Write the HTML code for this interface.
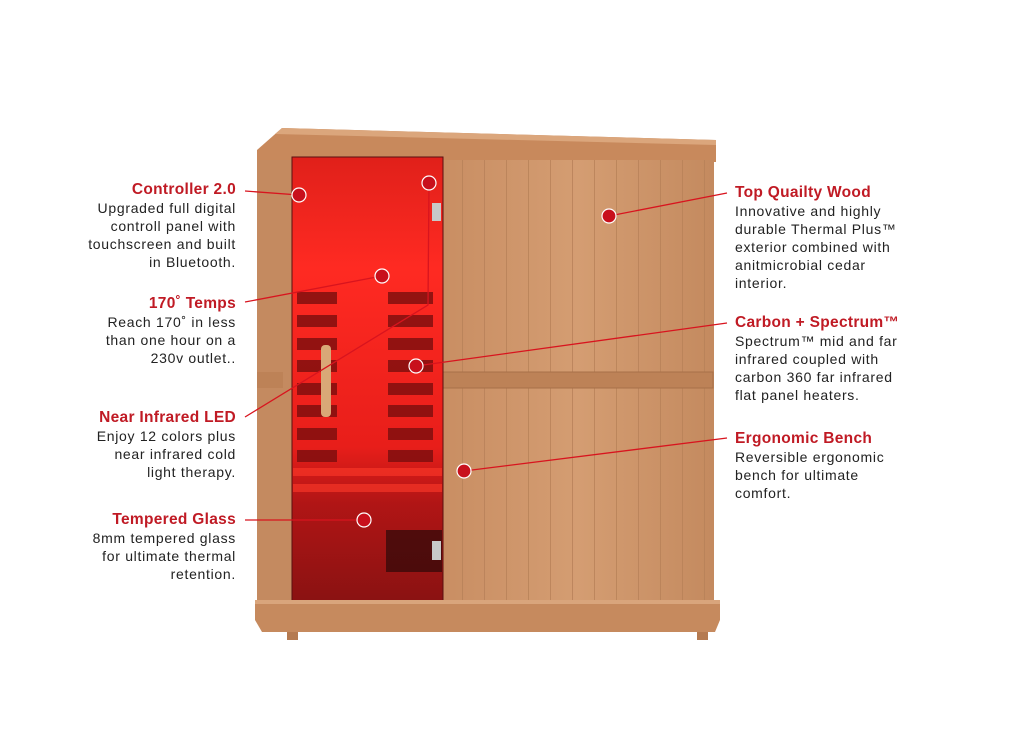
<!DOCTYPE html>
<html><head><meta charset="utf-8"><style>
body{margin:0;background:#fff;width:1024px;height:748px;overflow:hidden;position:relative;font-family:"Liberation Sans",sans-serif}
.l{position:absolute;font-size:14px;line-height:18px;color:#222;letter-spacing:0.7px;white-space:nowrap}
.l b{color:#c01a24;font-size:15.5px;font-weight:600;display:block;line-height:19px;letter-spacing:0.3px}
.r{text-align:right;right:788px}
.g{left:735px}
</style></head><body>
<svg width="1024" height="748" style="position:absolute;left:0;top:0">
<defs>
<linearGradient id="w" x1="0" x2="1"><stop offset="0" stop-color="#c98e63"/><stop offset=".5" stop-color="#d49d72"/><stop offset="1" stop-color="#c48a5f"/></linearGradient>
<linearGradient id="rd" x1="0" y1="0" x2="0" y2="1"><stop offset="0" stop-color="#e0201a"/><stop offset=".25" stop-color="#ff2a22"/><stop offset=".65" stop-color="#e81e1a"/><stop offset=".78" stop-color="#b01515"/><stop offset="1" stop-color="#8a1212"/></linearGradient>
<pattern id="pl" width="22" height="10" patternUnits="userSpaceOnUse"><line x1="0.5" y1="0" x2="0.5" y2="10" stroke="#b88158" stroke-width="0.8"/></pattern>
</defs>
<polygon points="257,150 282,128 716,140 716,162 257,162" fill="#c8895c"/>
<polygon points="282,128 716,140 716,145 275,134" fill="#dba67c"/>
<rect x="257" y="160" width="36" height="442" fill="#c48a60"/>
<rect x="443" y="160" width="271" height="442" fill="url(#w)"/>
<rect x="443" y="160" width="271" height="442" fill="url(#pl)"/>
<rect x="443" y="372" width="270" height="16" fill="#bd8257" stroke="#a87048"/>
<rect x="257" y="372" width="26" height="16" fill="#bd8257"/>
<rect x="292" y="157" width="151" height="445" fill="url(#rd)" stroke="#5a1010"/>
<g fill="#7a0e0e" opacity=".8">
<rect x="297" y="292" width="40" height="12"/><rect x="388" y="292" width="45" height="12"/>
<rect x="297" y="315" width="40" height="12"/><rect x="388" y="315" width="45" height="12"/>
<rect x="297" y="338" width="40" height="12"/><rect x="388" y="338" width="45" height="12"/>
<rect x="297" y="360" width="40" height="12"/><rect x="388" y="360" width="45" height="12"/>
<rect x="297" y="383" width="40" height="12"/><rect x="388" y="383" width="45" height="12"/>
<rect x="297" y="405" width="40" height="12"/><rect x="388" y="405" width="45" height="12"/>
<rect x="297" y="428" width="40" height="12"/><rect x="388" y="428" width="45" height="12"/>
<rect x="297" y="450" width="40" height="12"/><rect x="388" y="450" width="45" height="12"/>
<rect x="386" y="530" width="56" height="42" fill="#3a0a0a"/>
</g>
<g fill="#ff3a2a" opacity=".6"><rect x="293" y="468" width="149" height="8"/><rect x="293" y="484" width="149" height="8"/></g>
<rect x="321" y="345" width="10" height="72" rx="4" fill="#d9a877"/>
<rect x="432" y="203" width="9" height="18" fill="#c8c8c8"/><rect x="432" y="541" width="9" height="19" fill="#c8c8c8"/>
<polygon points="255,600 720,600 720,620 715,632 262,632 255,620" fill="#c68a5e"/>
<rect x="255" y="600" width="465" height="4" fill="#d9a57c"/>
<rect x="287" y="632" width="11" height="8" fill="#b57a50"/><rect x="697" y="632" width="11" height="8" fill="#b57a50"/>
<g stroke="#d8141e" stroke-width="1.3" fill="none">
<line x1="245" y1="191" x2="299" y2="195"/>
<line x1="245" y1="302" x2="382" y2="276"/>
<polyline points="245,417 428,305 429,183"/>
<line x1="245" y1="520" x2="364" y2="520"/>
<line x1="727" y1="193" x2="609" y2="216"/>
<line x1="727" y1="323" x2="416" y2="366"/>
<line x1="727" y1="438" x2="464" y2="471"/>
</g>
<g fill="#c8101c" stroke="#fff" stroke-width="1.2">
<circle cx="299" cy="195" r="7"/><circle cx="429" cy="183" r="7"/><circle cx="382" cy="276" r="7"/>
<circle cx="416" cy="366" r="7"/><circle cx="609" cy="216" r="7"/><circle cx="464" cy="471" r="7"/><circle cx="364" cy="520" r="7"/>
</g>
</svg>
<div class="l r" style="top:180px"><b>Controller 2.0</b>Upgraded full digital<br>controll panel with<br>touchscreen and built<br>in Bluetooth.</div>
<div class="l r" style="top:294px"><b>170˚ Temps</b>Reach 170˚ in less<br>than one hour on a<br>230v outlet..</div>
<div class="l r" style="top:408px"><b>Near Infrared LED</b>Enjoy 12 colors plus<br>near infrared cold<br>light therapy.</div>
<div class="l r" style="top:510px"><b>Tempered Glass</b>8mm tempered glass<br>for ultimate thermal<br>retention.</div>
<div class="l g" style="top:183px"><b>Top Quailty Wood</b>Innovative and highly<br>durable Thermal Plus™<br>exterior combined with<br>anitmicrobial cedar<br>interior.</div>
<div class="l g" style="top:313px"><b>Carbon + Spectrum™</b>Spectrum™ mid and far<br>infrared coupled with<br>carbon 360 far infrared<br>flat panel heaters.</div>
<div class="l g" style="top:429px"><b>Ergonomic Bench</b>Reversible ergonomic<br>bench for ultimate<br>comfort.</div>
</body></html>
